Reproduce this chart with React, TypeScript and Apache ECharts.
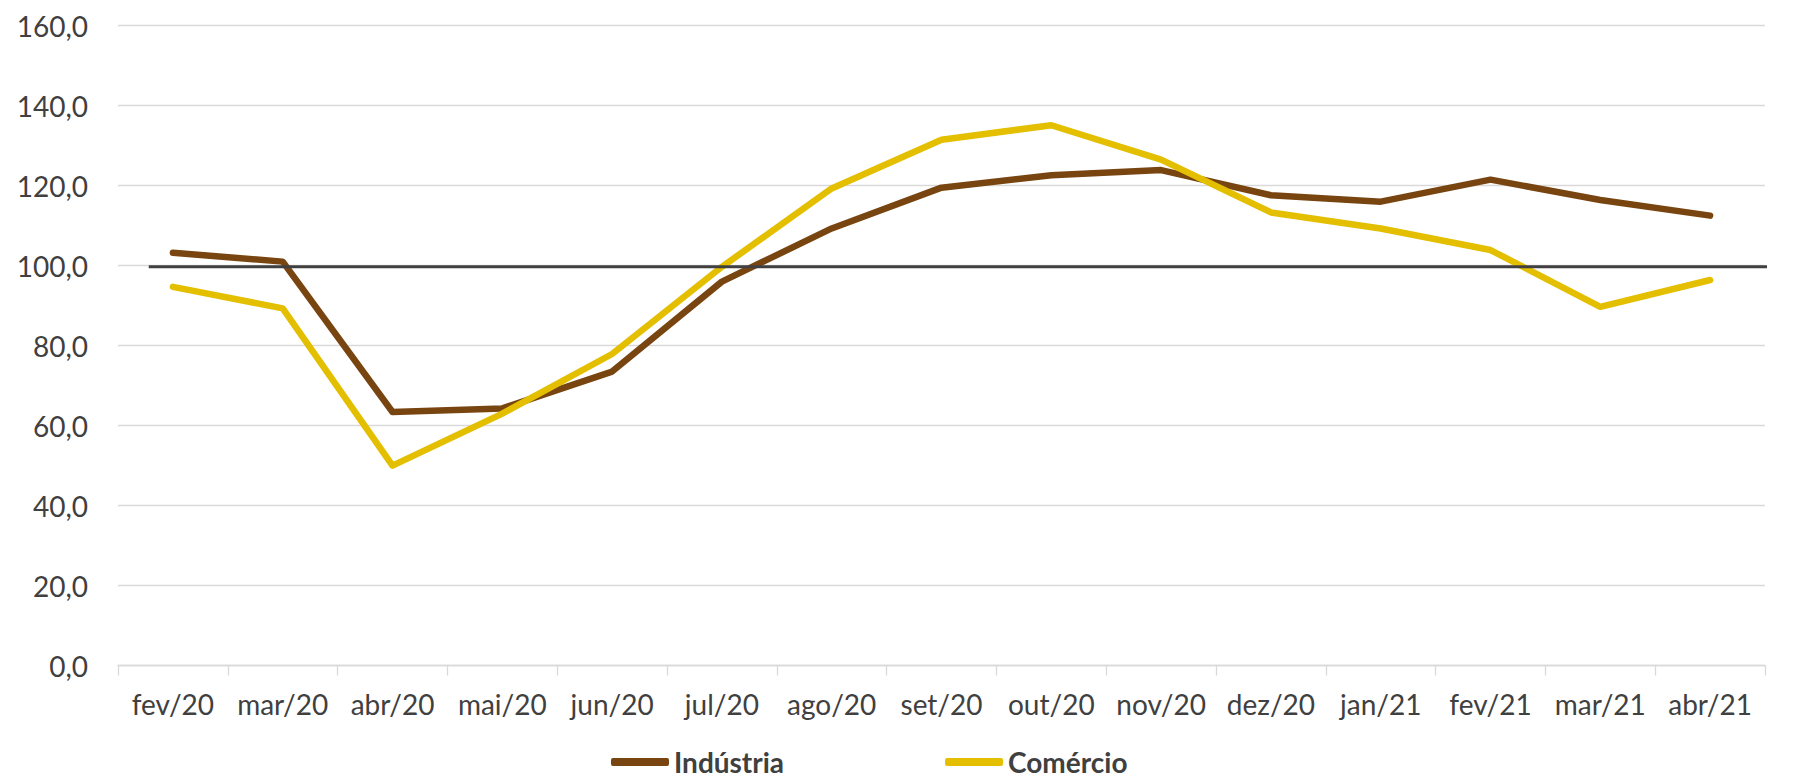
import React, { useEffect, useRef } from "react";
import * as echarts from "echarts";

const categories = ["fev/20", "mar/20", "abr/20", "mai/20", "jun/20", "jul/20", "ago/20", "set/20", "out/20", "nov/20", "dez/20", "jan/21", "fev/21", "mar/21", "abr/21"];
const industria = [103.2, 101.0, 63.4, 64.3, 73.5, 96.0, 109.3, 119.5, 122.6, 123.9, 117.6, 116.0, 121.5, 116.4, 112.5];
const comercio = [94.7, 89.3, 50.0, 63.0, 77.9, 99.7, 119.3, 131.5, 135.1, 126.5, 113.3, 109.3, 103.9, 89.7, 96.4];
const referenceX = [0.28, 15.5];
const referenceY = [99.7, 99.7];
const yTicks = { min: 0, max: 160, interval: 20 };

const FONT = "Lato";
const TEXT = "#404040";
const GRID = "#D9D9D9";
const BROWN = "#784510";
const YELLOW = "#E3BF00";

export default function App() {
  const ref = useRef<HTMLDivElement>(null);
  useEffect(() => {
    if (!ref.current) return;
    const chart = echarts.init(ref.current, undefined, { renderer: "svg" });
    chart.setOption({
      animation: false,
      backgroundColor: "#ffffff",
      textStyle: { fontFamily: FONT },
      grid: { left: 118, right: 49, top: 25.7, bottom: 114.5, containLabel: false },
      legend: {
        data: ["Indústria", "Comércio"],
        left: 611,
        top: 747,
        padding: 0,
        itemWidth: 58,
        itemHeight: 8,
        itemGap: 161,
        icon: "roundRect",
        textStyle: { fontFamily: FONT, fontSize: 28, fontWeight: "bold", color: TEXT, lineHeight: 30 },
      },
      xAxis: [
        {
          type: "category",
          data: categories,
          boundaryGap: true,
          axisLine: { show: true, lineStyle: { color: GRID, width: 1.3 } },
          axisTick: { show: true, length: 10, lineStyle: { color: GRID, width: 1.3 } },
          axisLabel: { interval: 0, margin: 24, fontFamily: FONT, fontSize: 28, color: TEXT },
          splitLine: { show: false },
        },
        {
          type: "value",
          min: 0,
          max: 15,
          show: false,
        },
      ],
      yAxis: {
        type: "value",
        min: yTicks.min,
        max: yTicks.max,
        interval: yTicks.interval,
        axisLine: { show: false },
        axisTick: { show: false },
        axisLabel: {
          margin: 30,
          fontFamily: FONT,
          fontSize: 28,
          color: TEXT,
          formatter: (v: number) => v.toFixed(1).replace(".", ","),
        },
        splitLine: { show: true, lineStyle: { color: GRID, width: 1.3 } },
      },
      series: [
        {
          name: "Indústria",
          type: "line",
          data: industria,
          showSymbol: false,
          symbol: "none",
          color: BROWN,
          itemStyle: { color: BROWN },
          lineStyle: { color: BROWN, width: 6.5, cap: "round", join: "round" },
        },
        {
          name: "Comércio",
          type: "line",
          data: comercio,
          showSymbol: false,
          symbol: "none",
          color: YELLOW,
          itemStyle: { color: YELLOW },
          lineStyle: { color: YELLOW, width: 6.5, cap: "round", join: "round" },
        },
        {
          name: "Referência",
          type: "line",
          xAxisIndex: 1,
          yAxisIndex: 0,
          data: referenceX.map((x, i) => [x, referenceY[i]]),
          showSymbol: false,
          symbol: "none",
          clip: false,
          silent: true,
          lineStyle: { color: "#404040", width: 3 },
        },
      ],
    });
    return () => chart.dispose();
  }, []);
  return (
    <div
      ref={ref}
      style={{ position: "fixed", left: 0, top: 0, width: 1814, height: 780, background: "#fff" }}
    />
  );
}
